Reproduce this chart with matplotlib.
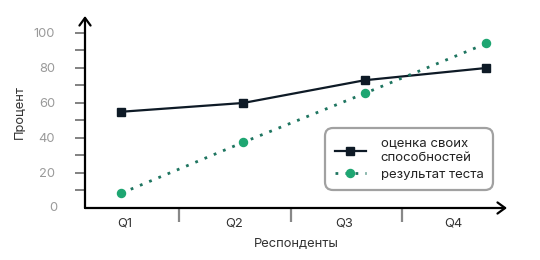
import matplotlib
matplotlib.use("Agg")
import matplotlib.pyplot as plt
import numpy as np

categories = ["Q1", "Q2", "Q3", "Q4"]
self_assessment = [55, 60, 73, 80]
test_result = [8.5, 37.5, 65.5, 94]
y_ticks = [20, 40, 60, 80, 100]
y_tick_labels = ["20", "40", "60", "80", "100"]

plt.rcParams['font.family'] = ['Inter', 'DejaVu Sans']

fig = plt.figure(figsize=(5.4, 2.6), dpi=100)
ax = fig.add_axes([85/540, 1 - 208/260, (507-85)/540, (208-16)/260])

x = np.arange(len(categories))
ax.plot(x, self_assessment, color='#0e1a26', lw=1.6, marker='s', ms=5.2,
        label='оценка своих\nспособностей', zorder=3)
ax.plot(x, test_result, color='#1e7560', lw=2, ls=(0, (1, 2.6)), marker='o', ms=5.8,
        markerfacecolor='#1ea672', markeredgecolor='#1ea672',
        label='результат теста', zorder=3)

ax.set_xlim(-0.30, 3.17)
ax.set_ylim(0, 109.7)

for s in ax.spines.values():
    s.set_visible(False)

# axes arrows
ax.annotate('', xy=(0, 1.0), xytext=(0, 0), xycoords='axes fraction',
            arrowprops=dict(arrowstyle='->,head_length=0.55,head_width=0.4', color='black', lw=1.6,
                            shrinkA=0, shrinkB=0))
ax.annotate('', xy=(1.0, 0), xytext=(0, 0), xycoords='axes fraction',
            arrowprops=dict(arrowstyle='->,head_length=0.55,head_width=0.4', color='black', lw=1.6,
                            shrinkA=0, shrinkB=0))

# y ticks
ax.set_yticks(y_ticks)
ax.set_yticklabels(y_tick_labels)
ax.set_yticks(np.arange(10, 100, 20), minor=True)
ax.tick_params(axis='y', which='both', length=7, width=1.3, color='#777777',
               pad=14.5, labelsize=9.3, labelcolor='#9a9a9a')
ax.annotate('0', xy=(0, 0), xycoords='axes fraction', xytext=(-20, 0),
            textcoords='offset points', ha='right', va='center', fontsize=9.3,
            color='#9a9a9a')

# x ticks: labels between separators
label_pos = [i * 0.9 + 0.03 for i in range(len(categories))]
sep_pos = [0.47 + 0.92 * k for k in range(len(categories) - 1)]
ax.set_xticks(label_pos)
ax.set_xticklabels(categories)
ax.tick_params(axis='x', which='major', length=0, pad=7, labelsize=9.3, labelcolor='#333333')
ax.set_xticks(sep_pos, minor=True)
ax.tick_params(axis='x', which='minor', length=10, width=1.6, color='#888888')

ax.set_xlabel('Респонденты', fontsize=9.3, color='#333333', labelpad=6)
ax.set_ylabel('Процент', fontsize=9.3, color='#333333', labelpad=6)

leg = ax.legend(loc='lower right', bbox_to_anchor=(0.982, 0.06), fontsize=9.5,
                frameon=True, fancybox=True, edgecolor='#8a8a8a', handlelength=2.4,
                labelspacing=0.3, borderpad=0.7, handletextpad=1.1)
leg.get_frame().set_linewidth(1.6)
leg.get_frame().set_boxstyle('round,pad=0,rounding_size=0.6')
for t in leg.get_texts():
    t.set_color('#222222')
    t.set_linespacing(1.4)

fig.savefig('out.png', dpi=100)
